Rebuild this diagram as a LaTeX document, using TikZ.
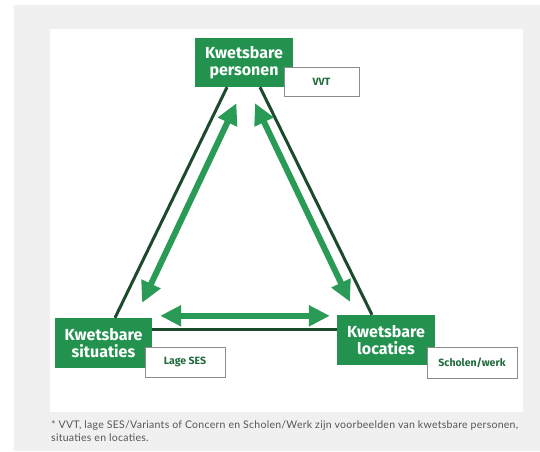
\documentclass[tikz,border=0pt]{standalone}
\usepackage{fontspec}
\setmainfont{Fira Sans}
\newfontfamily\notefont[LetterSpace=2.6]{Lato}
\usetikzlibrary{arrows.meta}
\definecolor{bgGrey}{HTML}{F0F0F0}
\definecolor{nodeGreen}{HTML}{23924F}
\definecolor{arrowGreen}{HTML}{2A9A57}
\definecolor{darkLine}{HTML}{1C4A2D}
\definecolor{labelText}{HTML}{1E6A3B}
\definecolor{labelBorder}{HTML}{8C8C8C}
\definecolor{noteText}{HTML}{555555}
\tikzset{
  mainbox/.style={fill=nodeGreen, text=white, inner sep=0pt, align=center,
    minimum width=98pt, minimum height=49pt,
    font=\fontsize{16}{17.5}\selectfont\bfseries},
  labelbox/.style={fill=white, draw=labelBorder, line width=0.9pt, inner sep=0pt,
    text=labelText, font=\fontsize{10.5}{12}\selectfont\bfseries},
  darkedge/.style={draw=darkLine, line width=3pt},
  garrow/.style={draw=arrowGreen, line width=6pt,
    {Triangle[length={21pt 0 0},width={20pt 0 0}]}-{Triangle[length={21pt 0 0},width={20pt 0 0}]}},
  note/.style={text=noteText, inner sep=0pt, anchor=north west, align=left,
    font=\notefont\fontsize{10.5}{13.5}\selectfont}
}
\begin{document}
\begin{tikzpicture}[x=1pt,y=-1pt]
\useasboundingbox (0,0) rectangle (540,451);
\fill[white] (0,0) rectangle (540,451);
\fill[bgGrey] (14,5) rectangle (540,451);
\fill[white] (50,29) rectangle (523,412);

% main nodes
\node[mainbox] (P) at (244,62.5) {Kwetsbare\\personen};
\node[mainbox, minimum width=97pt, minimum height=50pt] (S) at (103.5,343) {Kwetsbare\\situaties};
\node[mainbox, minimum height=50pt] (R) at (386,340) {Kwetsbare\\locaties};

% label boxes
\node[labelbox, minimum width=75pt, minimum height=29pt] (PL) at (321.5,81.5) {VVT};
\node[labelbox, minimum width=80pt, minimum height=30pt] (SL) at (185,362) {Lage SES};
\node[labelbox, minimum width=90pt, minimum height=31pt] (RL) at (472,362.5) {Scholen/werk};

% dark triangle edges
\draw[darkedge] ([xshift=-17pt]P.south) -- ([xshift=11.5pt]S.north);
\draw[darkedge] ([xshift=16pt]P.south) -- ([xshift=-14pt]R.north);
\draw[darkedge] ([yshift=14pt]S.east) -- ([yshift=11pt]R.west);

% green double arrows
\draw[garrow, shorten <=17.7pt, shorten >=16.6pt] (P.south) -- ([xshift=31.5pt]S.north);
\draw[garrow, shorten <=17.7pt, shorten >=14.4pt] ([xshift=3.4pt]P.south) -- ([xshift=-29.8pt]R.north);
\draw[garrow, shorten <=8pt, shorten >=7pt] ([yshift=2pt]S.north east) -- ([yshift=-1pt]R.north west);

% footnote
\node[note] (N) at (51,420) {* VVT, lage SES/Variants of Concern en Scholen/Werk zijn voorbeelden van kwetsbare personen,\\situaties en locaties.};
\end{tikzpicture}
\end{document}
